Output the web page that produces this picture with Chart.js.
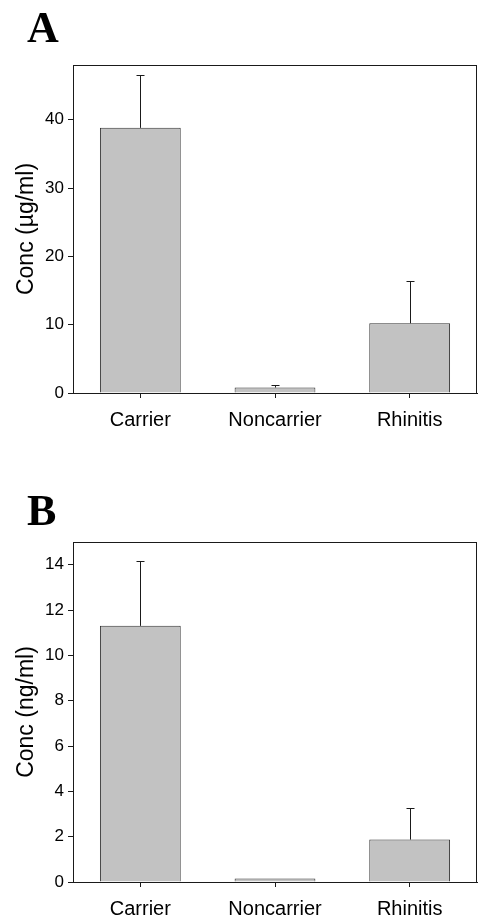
<!DOCTYPE html>
<html>
<head>
<meta charset="utf-8">
<script src="https://cdn.jsdelivr.net/npm/chart.js@4"></script>
<style>
  html, body { margin: 0; padding: 0; background: #fff; }
  canvas { position: absolute; left: 0; }
  #chartA { top: 0; }
  #chartB { top: 460px; }
</style>
</head>
<body>
<canvas id="chartA" width="478" height="460"></canvas>
<canvas id="chartB" width="478" height="461"></canvas>
<script>
const categories = ["Carrier", "Noncarrier", "Rhinitis"];

// panel A: conc in ug/ml, mean + upper error
const concA = [38.8, 0.8, 10.2];
const errA = [7.8, 0.3, 6.2];
const ticksA = [0, 10, 20, 30, 40];

// panel B: conc in ng/ml
const concB = [11.3, 0.15, 1.87];
const errB = [2.85, 0, 1.4];
const ticksB = [0, 2, 4, 6, 8, 10, 12, 14];

const ink = "#1a1a1a";
const sans = "'Liberation Sans', Arial, sans-serif";

// upward error bars with a small cap, drawn off the y scale
const errorBars = {
  id: "errorBars",
  afterDatasetsDraw(chart, args, opts) {
    const { ctx, scales } = chart;
    const meta = chart.getDatasetMeta(0);
    const vals = chart.data.datasets[0].data;
    ctx.save();
    ctx.strokeStyle = ink;
    ctx.lineWidth = 1;
    meta.data.forEach((bar, i) => {
      if (!opts.err[i]) return;
      const x = Math.round(bar.x) + 0.5;
      const y0 = scales.y.getPixelForValue(vals[i]);
      const y1 = Math.round(scales.y.getPixelForValue(vals[i] + opts.err[i])) + 0.5;
      ctx.beginPath();
      ctx.moveTo(x, y0);
      ctx.lineTo(x, y1);
      ctx.moveTo(x - 4, y1);
      ctx.lineTo(x + 4, y1);
      ctx.stroke();
    });
    ctx.restore();
  },
};

// frame around plot + panel letter
const frame = {
  id: "frame",
  afterDraw(chart, args, opts) {
    const { ctx, chartArea: a } = chart;
    ctx.save();
    ctx.strokeStyle = ink;
    ctx.lineWidth = 1;
    ctx.strokeRect(Math.round(a.left) + 0.5, Math.round(a.top) + 0.5,
      Math.round(a.right - a.left) - 1, Math.round(a.bottom - a.top));
    ctx.fillStyle = "#000";
    ctx.font = "bold 44px 'Liberation Serif', 'Times New Roman', serif";
    ctx.textBaseline = "alphabetic";
    ctx.fillText(opts.letter, opts.lx, opts.ly);
    ctx.restore();
  },
};

function makeChart(id, vals, errs, tickVals, yMax, yTitle, letter, ly, padTop, axisH) {
  return new Chart(document.getElementById(id), {
    type: "bar",
    data: {
      labels: categories,
      datasets: [{
        data: vals,
        backgroundColor: "#c2c2c2",
        borderColor: "#333",
        borderWidth: 1,
        categoryPercentage: 1,
        barPercentage: 0.6,
      }],
    },
    options: {
      responsive: false,
      animation: false,
      devicePixelRatio: 1,
      layout: { padding: { left: 0, top: padTop, right: 1, bottom: 0 } },
      plugins: {
        legend: { display: false },
        tooltip: { enabled: false },
        errorBars: { err: errs },
        frame: { letter, lx: 27, ly },
      },
      scales: {
        x: {
          grid: {
            offset: false,
            drawOnChartArea: false,
            tickLength: 5,
            color: ink,
          },
          border: { color: ink },
          ticks: { color: "#000", padding: 10, font: { family: sans, size: 20 } },
          afterFit: (s) => { s.height = axisH; },
        },
        y: {
          min: 0,
          max: yMax,
          grid: { drawOnChartArea: false, tickLength: 5, color: ink },
          border: { color: ink },
          afterBuildTicks: (s) => { s.ticks = tickVals.map((v) => ({ value: v })); },
          ticks: { color: "#000", padding: 4, font: { family: sans, size: 17 } },
          title: {
            display: true,
            text: yTitle,
            color: "#000",
            padding: { top: 13, bottom: 0 },
            font: { family: sans, size: 23 },
          },
          afterFit: (s) => { s.width = 73; },
        },
      },
    },
    plugins: [errorBars, frame],
  });
}

makeChart("chartA", concA, errA, ticksA, 48, "Conc (\u00b5g/ml)", "A", 42, 65, 67);
makeChart("chartB", concB, errB, ticksB, 15, "Conc (ng/ml)", "B", 65, 82, 39);
</script>
</body>
</html>
